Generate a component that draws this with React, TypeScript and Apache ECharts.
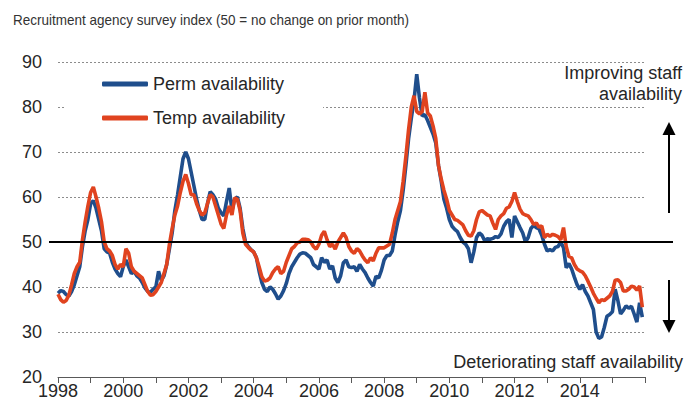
import React, { useEffect, useRef } from "react";
import * as echarts from "echarts";

const START_YEAR = 1998;
const END_YEAR = 2016;
const Y_MIN = 20;
const Y_MAX = 90;
const Y_STEP = 10;
const REF_LEVEL = 50;
const TITLE = "Recruitment agency survey index (50 = no change on prior month)";
const SERIES_NAMES = ["Perm availability", "Temp availability"];
const NOTE_UP = "Improving staff\navailability";
const NOTE_DOWN = "Deteriorating staff availability";

// Monthly values, Jan 1998 - Dec 2015
const permAvailability = [
  38.6, 39.2, 39.0, 38.3, 38.0, 39.0, 40.5, 42.5, 44.5, 49.0, 52.5, 55.0,
  58.5, 59.2, 57.5, 55.0, 52.5, 48.5, 47.8, 47.5, 45.5, 44.0, 43.0, 42.3,
  44.5, 46.0, 44.5, 43.0, 43.5, 42.5, 42.0, 41.0, 39.8, 39.0, 38.8, 39.5,
  40.0, 43.5, 41.5, 42.5, 45.0, 48.5, 52.0, 57.0, 60.5, 64.5, 68.5, 70.0,
  68.5, 65.5, 62.5, 59.5, 57.0, 55.0, 55.0, 58.5, 61.2, 60.5, 59.5, 57.5,
  56.5, 55.8, 59.0, 62.0, 57.0, 59.5, 60.0, 57.5, 53.0, 50.0, 49.0, 48.3,
  47.8, 46.5, 43.5, 41.0, 39.5, 39.0, 40.0, 39.5, 38.5, 37.3, 38.0, 39.2,
  40.8, 43.0, 44.5, 45.5, 46.5, 47.3, 47.6, 47.5, 47.0, 46.5, 45.0, 44.5,
  44.0, 46.5, 45.5, 46.0, 44.0, 44.7, 42.0, 41.0, 42.5, 45.4, 46.0, 44.5,
  44.3, 44.5, 43.5, 45.0, 44.0, 43.2, 42.0, 41.0, 40.2, 42.4, 42.0, 43.7,
  46.0, 47.0, 47.0, 48.0, 51.5, 54.5, 57.0, 61.5, 67.0, 73.0, 77.5, 81.5,
  87.3, 82.0, 78.0, 78.3, 77.0, 75.5, 74.0, 72.0, 67.0, 63.5, 59.5, 57.5,
  55.0, 53.5, 52.8, 52.3, 51.0, 50.0, 49.5, 48.5, 45.4, 47.8, 51.0, 52.0,
  51.5, 50.3, 50.7, 50.6, 50.8, 51.2, 51.0, 51.8, 53.5, 54.5, 55.0, 51.0,
  55.8, 54.5, 53.2, 52.0, 50.0, 51.0, 53.0, 53.7, 53.2, 52.9, 51.5, 49.5,
  48.0, 48.3, 48.0, 48.8, 49.0, 50.0, 48.7, 44.3, 45.2, 44.0, 42.2, 40.5,
  39.5, 40.5, 39.0, 38.0, 36.5, 35.0, 30.0, 28.6, 28.9, 31.0, 33.5, 33.9,
  34.5, 39.5, 37.0, 34.0, 34.8, 35.8, 35.3, 35.7, 34.0, 32.2, 36.5, 33.3,
];

const tempAvailability = [
  38.4, 37.2, 36.6, 37.0, 38.2, 40.5, 43.0, 44.5, 45.5, 50.5, 54.5, 58.0,
  61.0, 62.2, 60.0, 57.5, 54.5, 50.0, 48.5, 48.0, 47.0, 45.0, 44.0, 45.0,
  44.5, 48.5, 47.5, 44.5, 43.5, 43.0, 42.5, 42.0, 40.5, 39.0, 38.2, 38.3,
  39.0, 40.0, 41.0, 43.0, 45.0, 49.5, 53.0, 56.0, 58.0, 61.0, 63.5, 65.0,
  63.0, 60.5, 60.5, 58.5, 57.0, 56.0, 56.5, 58.5, 60.5, 60.0, 58.0, 56.0,
  54.0, 53.0, 56.0, 58.0, 56.0, 59.8, 59.5, 57.0, 52.0, 49.5, 48.8, 48.2,
  47.8, 46.5, 44.5, 42.3, 41.3, 41.5, 42.0, 43.2, 44.0, 44.5, 43.0, 43.5,
  45.5, 47.0, 48.5, 49.0, 49.8, 50.0, 50.6, 50.6, 50.5, 50.0, 49.0, 48.4,
  49.5, 51.5, 52.4, 50.5, 49.0, 49.5, 48.4, 50.0, 51.0, 52.0, 51.0, 49.0,
  48.0, 47.5, 48.5, 48.0, 46.9, 46.0, 45.4, 46.5, 45.8, 47.5, 48.7, 48.7,
  48.7, 49.1, 49.5, 52.0, 55.0, 57.0, 59.0, 63.5, 69.0, 75.0, 80.0, 82.5,
  79.0, 78.5, 79.0, 83.3, 78.7, 78.0, 75.8, 73.0, 67.0, 64.0, 61.5, 59.5,
  57.0, 56.0, 55.0, 54.8, 54.3, 53.8, 52.5, 51.5, 51.3, 52.5, 55.0, 56.7,
  57.0, 56.5, 56.0, 55.8, 54.2, 52.8, 55.0, 55.8, 56.3, 57.5, 57.8, 59.0,
  61.0, 59.0, 57.3, 56.3, 56.0, 55.8, 55.0, 53.9, 54.2, 53.3, 53.6, 51.0,
  51.7, 51.3, 51.7, 51.5, 51.2, 50.5, 53.2, 49.0, 46.8, 46.5, 45.0, 44.0,
  43.6, 43.3, 42.5, 41.3, 40.0, 38.6, 37.5, 36.5, 37.2, 37.0, 37.5, 38.0,
  39.0, 41.5, 41.6, 41.0, 39.1, 39.1, 39.5, 40.2, 40.0, 39.3, 40.2, 35.5,
];

const FONT = "'Liberation Sans', Arial, Helvetica, sans-serif";
const TEXT_COLOR = "#262626";
const BLUE = "#1f4e8c";
const RED = "#e0431f";

const toPoints = (vals: number[]) =>
  vals.map((v, i) => [START_YEAR + i / 12, v]);

export default function App() {
  const ref = useRef<HTMLDivElement>(null);

  useEffect(() => {
    if (!ref.current) return;
    const chart = echarts.init(ref.current, null, { renderer: "svg" });
    chart.setOption({
      animation: false,
      grid: { left: 58, right: 55, top: 62, bottom: 30, containLabel: false },
      xAxis: {
        type: "value",
        min: START_YEAR,
        max: END_YEAR - 0.001,
        interval: 1,
        axisLine: { show: true, lineStyle: { color: "#595959", width: 1 } },
        axisTick: { show: true, length: 6, lineStyle: { color: "#595959" } },
        axisLabel: {
          interval: 0,
          formatter: (v: number) => {
            const y = Math.round(v);
            return y % 2 === 0 && v < END_YEAR - 0.5 ? String(y) : "";
          },
          fontSize: 18,
          fontFamily: FONT,
          color: TEXT_COLOR,
          margin: 5,
        },
        splitLine: { show: false },
      },
      yAxis: {
        type: "value",
        min: Y_MIN,
        max: Y_MAX,
        interval: Y_STEP,
        axisLine: { show: false },
        axisTick: { show: false },
        axisLabel: {
          fontSize: 18,
          fontFamily: FONT,
          color: TEXT_COLOR,
          margin: 16,
        },
        splitLine: {
          lineStyle: { color: "#8c8c8c", type: [2, 2], width: 1 },
        },
      },
      legend: {
        orient: "vertical",
        left: 65,
        top: 66,
        padding: [8, 38, 8, 37],
        backgroundColor: "#ffffff",
        itemWidth: 46,
        itemHeight: 5,
        itemGap: 14,
        icon: "roundRect",
        textStyle: {
          fontSize: 18,
          fontFamily: FONT,
          color: TEXT_COLOR,
          lineHeight: 20,
        },
        data: SERIES_NAMES,
      },
      series: [
        {
          name: SERIES_NAMES[0],
          type: "line",
          data: toPoints(permAvailability),
          showSymbol: false,
          lineStyle: { color: BLUE, width: 3.6 },
          itemStyle: { color: BLUE },
        },
        {
          name: SERIES_NAMES[1],
          type: "line",
          data: toPoints(tempAvailability),
          showSymbol: false,
          lineStyle: { color: RED, width: 3.6 },
          itemStyle: { color: RED },
        },
      ],
    });

    const y50 = chart.convertToPixel({ yAxisIndex: 0 }, REF_LEVEL) as number;
    chart.setOption({
      graphic: [
        {
          type: "line",
          z: 100,
          shape: { x1: 49, y1: y50, x2: 673, y2: y50 },
          style: { stroke: "#000000", lineWidth: 2 },
        },
        {
          type: "text",
          z: 100,
          x: 13,
          y: 19.5,
          scaleX: 0.9,
          style: {
            text: TITLE,
            x: 0,
            y: 0,
            verticalAlign: "middle",
            fontSize: 15,
            fontFamily: FONT,
            fill: "#333333",
          },
        },
        {
          type: "text",
          z: 100,
          style: {
            text: NOTE_UP,
            x: 682,
            y: 62.5,
            align: "right",
            verticalAlign: "top",
            lineHeight: 21,
            fontSize: 18,
            fontFamily: FONT,
            fill: TEXT_COLOR,
          },
        },
        {
          type: "text",
          z: 100,
          style: {
            text: NOTE_DOWN,
            x: 683,
            y: 362,
            align: "right",
            verticalAlign: "middle",
            fontSize: 18,
            fontFamily: FONT,
            fill: TEXT_COLOR,
          },
        },
        {
          type: "line",
          z: 100,
          shape: { x1: 669, y1: 213, x2: 669, y2: 133 },
          style: { stroke: "#000000", lineWidth: 2 },
        },
        {
          type: "polygon",
          z: 100,
          shape: { points: [[669, 122], [662.5, 135], [675.5, 135]] },
          style: { fill: "#000000" },
        },
        {
          type: "line",
          z: 100,
          shape: { x1: 669, y1: 280, x2: 669, y2: 322 },
          style: { stroke: "#000000", lineWidth: 2 },
        },
        {
          type: "polygon",
          z: 100,
          shape: { points: [[669, 333], [662.5, 320], [675.5, 320]] },
          style: { fill: "#000000" },
        },
      ],
    });

    return () => chart.dispose();
  }, []);

  return (
    <div
      ref={ref}
      style={{ position: "absolute", left: 0, top: 0, width: 700, height: 407 }}
    />
  );
}
